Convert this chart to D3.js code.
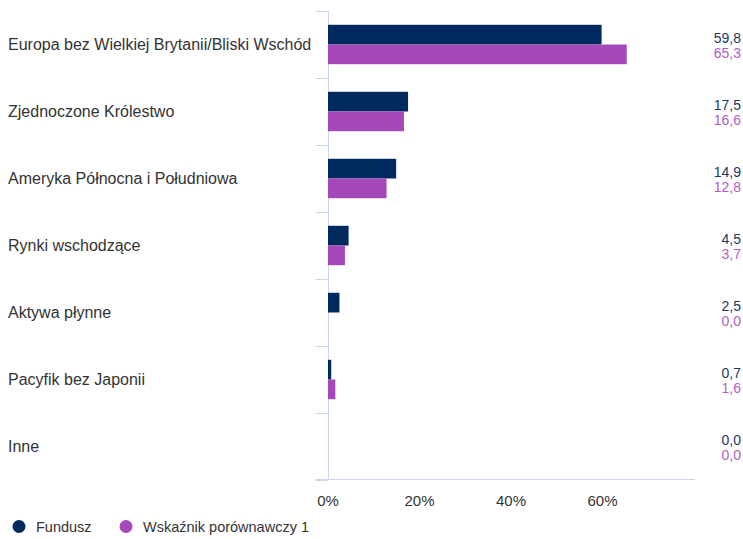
<!DOCTYPE html>
<html><head><meta charset="utf-8">
<script src="https://cdn.jsdelivr.net/npm/d3@7"></script>
<style>body{margin:0;background:#fff;}</style>
</head><body><svg id="c" width="743" height="539" font-family="'Liberation Sans', Arial, sans-serif"></svg>
<script>
const categories = ["Europa bez Wielkiej Brytanii/Bliski Wschód","Zjednoczone Królestwo","Ameryka Północna i Południowa","Rynki wschodzące","Aktywa płynne","Pacyfik bez Japonii","Inne"];
const fundValues = [59.8,17.5,14.9,4.5,2.5,0.7,0.0];
const benchValues = [65.3,16.6,12.8,3.7,0.0,1.6,0.0];
const seriesNames = ["Fundusz","Wskaźnik porównawczy 1"];
const xTicks = [0,20,40,60];
const colors = ["#002a5e","#a548b9"];
const labelColors = ["#1a3768","#b05ec6"];

const svg = d3.select("#c");
const pLeft = 328, pRight = 694, pTop = 11, pBottom = 480;
const x = d3.scaleLinear().domain([0,80]).range([pLeft,pRight]);
const y = d3.scaleBand().domain(categories).range([pTop,pBottom]);
const inner = d3.scaleBand().domain([0,1]).range([0,y.bandwidth()]).paddingOuter(0.7);

// category ticks
const ticks = d3.range(categories.length+1).map(i => pTop + i*y.step());
svg.selectAll("line.ct").data(ticks).enter().append("line")
  .attr("x1",316).attr("x2",pLeft).attr("y1",d=>d+0.5).attr("y2",d=>d+0.5)
  .attr("stroke","#ccd6eb");
svg.append("line").attr("x1",pLeft+0.5).attr("x2",pLeft+0.5).attr("y1",pTop).attr("y2",pBottom).attr("stroke","#ccd6eb");
svg.append("line").attr("x1",316).attr("x2",pRight+1).attr("y1",pBottom-0.5).attr("y2",pBottom-0.5).attr("stroke","#ccd6eb");

// x axis labels
svg.selectAll("text.xt").data(xTicks).enter().append("text")
  .attr("x",d=>x(d)).attr("y",506).attr("text-anchor","middle")
  .attr("font-size",15).attr("fill","#333").text(d=>d+"%");

// category labels
svg.selectAll("text.cat").data(categories).enter().append("text")
  .attr("x",8).attr("y",d=>y(d)+y.bandwidth()/2+5.5).attr("font-size",16).attr("fill","#333").text(d=>d);

const series = [fundValues, benchValues];
series.forEach((vals,si)=>{
  svg.selectAll("rect.s"+si).data(vals).enter().append("rect")
    .attr("x",x(0)).attr("y",(d,i)=>y(categories[i])+inner(si))
    .attr("width",d=>x(d)-x(0)).attr("height",inner.bandwidth())
    .attr("fill",colors[si]);
  svg.selectAll("text.v"+si).data(vals).enter().append("text")
    .attr("x",741).attr("y",(d,i)=>y(categories[i])+y.bandwidth()/2 + (si===0?-2:13.5))
    .attr("text-anchor","end").attr("font-size",14).attr("fill",labelColors[si])
    .text(d=>d.toFixed(1).replace(".",","));
});

// legend
const lg = [{x:19,t:seriesNames[0],c:colors[0]},{x:126,t:seriesNames[1],c:colors[1]}];
lg.forEach(l=>{
  svg.append("circle").attr("cx",l.x).attr("cy",526.5).attr("r",6.5).attr("fill",l.c);
  svg.append("text").attr("x",l.x+17).attr("y",532).attr("font-size",14.5).attr("fill","#333").text(l.t);
});
</script></body></html>
